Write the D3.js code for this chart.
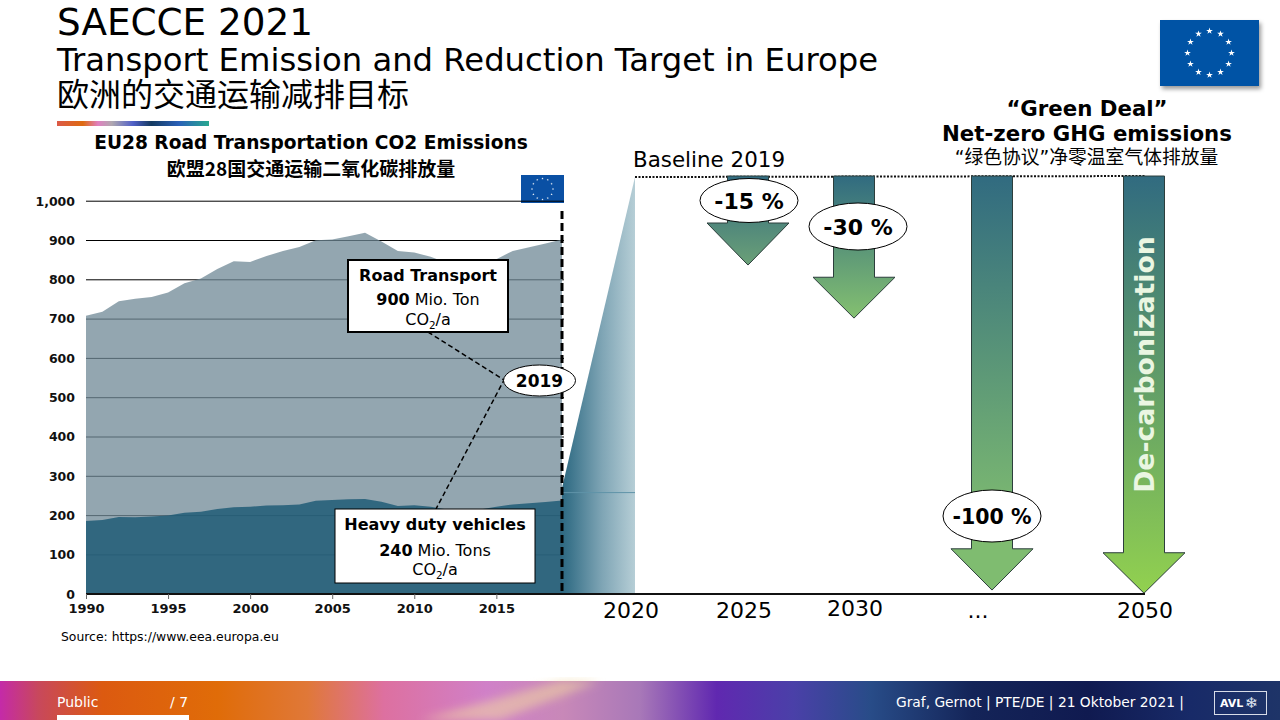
<!DOCTYPE html>
<html><head><meta charset="utf-8">
<script src="https://cdn.jsdelivr.net/npm/d3@7/dist/d3.min.js"></script>
<style>
html,body{margin:0;padding:0;background:#fff;overflow:hidden}
svg{display:block}
text{font-family:"DejaVu Sans",Verdana,sans-serif}
.cjk{font-family:"Noto Sans CJK SC","DejaVu Sans",sans-serif}
</style></head><body>
<svg id="c" width="1280" height="720"></svg>
<script>
const years=[1990,1991,1992,1993,1994,1995,1996,1997,1998,1999,2000,2001,2002,2003,2004,2005,2006,2007,2008,2009,2010,2011,2012,2013,2014,2015,2016,2017,2018,2019];
const roadTransport=[708,718,745,751,756,767,791,803,827,847,845,860,873,883,900,902,910,919,897,873,869,858,842,836,844,852,873,882,892,902];
const heavyDuty=[186,188,196,195,197,200,207,209,216,221,222,225,226,228,237,239,241,242,235,224,226,222,215,212,215,222,228,231,234,238];
const yTicks=[0,100,200,300,400,500,600,700,800,900,1000];
const yearTicks=[1990,1995,2000,2005,2010,2015];
const futureLabels=["2020","2025","2030","...","2050"];
const arrowNames=["-15 %","-30 %","-100 %","2050"];
const baselineValue=1061;
const arrowEnds=[837,702,10,2];
const arrowHeadTops=[944,806,115,105];
const arrowBottoms=["#6ba077","#84c070","#7fbc70","#92d14f"];
const W=1280,H=720;
const svg=d3.select("#c");
const defs=svg.append("defs");
const x=d3.scaleLinear([1990,2019],[86,562]);
const y=d3.scaleLinear([0,1000],[594,201]);
const fx=d3.scaleOrdinal(futureLabels,[631,744,855,978,1145]);
const fy=d3.scaleOrdinal(futureLabels,[618,618,616,618,618]);
const ax=d3.scaleOrdinal(arrowNames,[748,854,992,1144]);

function grad(id,stops,a){const g=defs.append("linearGradient").attr("id",id).attr("x1",a?a[0]:0).attr("y1",a?a[1]:0).attr("x2",a?a[2]:1).attr("y2",a?a[3]:0);
 stops.forEach(s=>g.append("stop").attr("offset",s[0]).attr("stop-color",s[1]));}
grad("rainbow",[[0,"#dc5a48"],[.17,"#de6a10"],[.27,"#e080c0"],[.36,"#b0a8b0"],[.5,"#5060c8"],[.62,"#143a60"],[.8,"#2a60b8"],[1,"#28a890"]]);
grad("zone",[[0,"#2f6a83"],[.12,"#3d758c"],[.55,"#7fa5b5"],[1,"#b6ced6"]]);
grad("foot",[[0,"#c42aa8"],[.03,"#c8485c"],[.08,"#dc5a10"],[.17,"#e06c08"],[.24,"#e07838"],[.3,"#dd70a0"],[.38,"#d080c8"],[.44,"#c888b8"],[.5,"#a878b8"],[.56,"#6028b0"],[.62,"#4a40a8"],[.68,"#284c88"],[.76,"#142458"],[.85,"#101a50"],[.93,"#182a68"],[1,"#1e3468"]]);
defs.append("filter").attr("id","sh").attr("x","-10%").attr("y","-10%").attr("width","125%").attr("height","125%")
 .append("feDropShadow").attr("dx",2).attr("dy",3).attr("stdDeviation",2).attr("flood-color","#000").attr("flood-opacity",.4);
defs.append("filter").attr("id","blur").append("feGaussianBlur").attr("stdDeviation",5);

const T=(s,xx,yy,size,o={})=>{const t=svg.append("text").attr("x",xx).attr("y",yy).attr("font-size",size)
 .attr("text-anchor",o.anchor||"start").attr("font-weight",o.weight||"normal").attr("fill",o.fill||"#000")
 .attr("class",o.cjk?"cjk":null).text(s);
 if(o.len)t.attr("textLength",o.len).attr("lengthAdjust","spacingAndGlyphs");return t;};
T("SAECCE 2021",57,35,37,{len:256});
T("Transport Emission and Reduction Target in Europe",57,71,32,{len:821});
T("欧洲的交通运输减排目标",57,106,32,{cjk:1});
svg.append("rect").attr("x",57).attr("y",121).attr("width",152).attr("height",5).attr("fill","url(#rainbow)");
T("EU28 Road Transportation CO2 Emissions",311,149,18.6,{anchor:"middle",weight:"bold"});
T("欧盟28国交通运输二氧化碳排放量",311,176,19,{anchor:"middle",weight:"bold",cjk:1});

function flag(xx,yy,w,h,r,s,fill,shadow){const g=svg.append("g");
 const rc=g.append("rect").attr("x",xx).attr("y",yy).attr("width",w).attr("height",h).attr("fill",fill);
 if(shadow)rc.attr("filter","url(#sh)");
 const cx=xx+w/2,cy=yy+h/2;
 g.selectAll("path").data(d3.range(12)).join("path").attr("d",d3.symbol(d3.symbolStar,s))
  .attr("fill","#fff").attr("transform",i=>`translate(${cx+r*Math.sin(i*Math.PI/6)},${cy-r*Math.cos(i*Math.PI/6)})`);}
flag(1160,20,99,66,22,14,"#0053a5",true);
flag(521,175,43,28,10.5,1.6,"#0a50a4",false);

svg.append("g").selectAll("line").data(yTicks.slice(1)).join("line")
 .attr("x1",86).attr("x2",564).attr("y1",d=>y(d)+.2).attr("y2",d=>y(d)+.2).attr("stroke","#000").attr("stroke-width",1);
const area=v=>d3.area().x((d,i)=>x(years[i])).y0(y(0)).y1(d=>y(d))(v);
svg.append("path").attr("d",area(roadTransport)).attr("fill","#6f8896").attr("fill-opacity",.75);
svg.append("path").attr("d",area(heavyDuty)).attr("fill","#205c77").attr("fill-opacity",.85);

const zoneR=635;
svg.append("path").attr("d",d3.line()([[x(2019),y(0)],[x(2019),y(270)],[zoneR,y(baselineValue)],[zoneR,y(0)]])+"Z").attr("fill","url(#zone)");
svg.append("line").attr("x1",x(2019)).attr("x2",zoneR).attr("y1",y(258)).attr("y2",y(258)).attr("stroke","#5f93a8").attr("stroke-width",1);

svg.append("line").attr("x1",zoneR).attr("x2",1145).attr("y1",y(baselineValue)).attr("y2",y(baselineValue)-1)
 .attr("stroke","#111").attr("stroke-width",2).attr("stroke-dasharray","2 1.5");
T("Baseline 2019",633,167,22,{len:152});

const shaftHalf=20.5,headHalf=41;
arrowNames.forEach((n,i)=>{
 const c=ax(n),top=y(baselineValue)-1,hy=y(arrowHeadTops[i]),tip=y(arrowEnds[i]);
 grad("arr"+i,[[0,"#316b80"],[i===2?.85:1,arrowBottoms[i]],[1,arrowBottoms[i]]],[0,0,0,1]);
 svg.append("path").attr("d",d3.line()([[c-shaftHalf,top],[c+shaftHalf,top],[c+shaftHalf,hy],[c+headHalf,hy],[c,tip],[c-headHalf,hy],[c-shaftHalf,hy]])+"Z")
  .attr("fill",`url(#arr${i})`).attr("stroke","#2c3e3c").attr("stroke-width",1);
});

svg.append("line").attr("x1",86).attr("x2",1145).attr("y1",594).attr("y2",594).attr("stroke","#111").attr("stroke-width",2);
const xAxis=d3.axisBottom(x).tickValues(yearTicks).tickFormat(d3.format("d")).tickSize(5).tickPadding(3);
const xg=svg.append("g").attr("transform","translate(0,594)").call(xAxis);
xg.select(".domain").remove();
xg.selectAll("line").attr("stroke","#666");
xg.selectAll("text").attr("font-size",13).attr("font-weight","bold").attr("fill","#111").attr("y",9).attr("dy","10");
const yAxis=d3.axisLeft(y).tickValues(yTicks).tickFormat(d3.format(",")).tickSize(0).tickPadding(11);
const yg=svg.append("g").attr("transform","translate(86,0)").call(yAxis);
yg.select(".domain").remove();
yg.selectAll("text").attr("font-size",12.5).attr("font-weight","bold").attr("fill","#111");
futureLabels.forEach(l=>T(l,fx(l),fy(l),22,{anchor:"middle"}));
T("Source: https://www.eea.europa.eu",61,641,12.4);

svg.append("line").attr("x1",x(2019)).attr("x2",x(2019)).attr("y1",211).attr("y2",594).attr("stroke","#000").attr("stroke-width",3).attr("stroke-dasharray","8 4");

svg.append("path").attr("d","M428,332L504,380L436,509").attr("fill","none").attr("stroke","#000").attr("stroke-width",1.5).attr("stroke-dasharray","5 3");

function box(xx,yy,w,h,sw){svg.append("rect").attr("x",xx).attr("y",yy).attr("width",w).attr("height",h).attr("fill","#fff").attr("stroke","#000").attr("stroke-width",sw);}
function rich(cx,yy,parts,size){const t=svg.append("text").attr("x",cx).attr("y",yy).attr("text-anchor","middle").attr("font-size",size);
 parts.forEach(p=>{const s=t.append("tspan").text(p.t);if(p.b)s.attr("font-weight","bold");if(p.sub)s.attr("font-size",size*.65).attr("dy",4);if(p.up)s.attr("dy",-4);if(p.cjk)s.attr("class","cjk");});return t;}
box(348,260,160,72,2);
rich(428,281,[{t:"Road Transport",b:1}],16);
rich(428,305,[{t:"900",b:1},{t:" Mio. Ton"}],16);
rich(428,325,[{t:"CO"},{t:"2",sub:1},{t:"/a",up:1}],16);
box(335,509,200,74,1);
rich(435,530,[{t:"Heavy duty vehicles",b:1}],16);
rich(435,556,[{t:"240",b:1},{t:" Mio. Tons"}],16);
rich(435,575,[{t:"CO"},{t:"2",sub:1},{t:"/a",up:1}],16);

function oval(cx,cy,rx,ry,s,size){svg.append("ellipse").attr("cx",cx).attr("cy",cy).attr("rx",rx).attr("ry",ry).attr("fill","#fff").attr("stroke","#000").attr("stroke-width",1);
 T(s,cx,cy+size*.38,size,{anchor:"middle",weight:"bold"});}
oval(539.5,380.5,36,15.5,"2019",17);
oval(749,200.5,49,22,arrowNames[0],22);
oval(858,226.5,49,23.5,arrowNames[1],22);
oval(992,516,49,26,arrowNames[2],20.5);

T("“Green Deal”",1087,116,21.3,{anchor:"middle",weight:"bold"});
T("Net-zero GHG emissions",1087,141,21.3,{anchor:"middle",weight:"bold"});
rich(1086.5,164,[{t:"“"},{t:"绿色协议",cjk:1},{t:"”"},{t:"净零温室气体排放量",cjk:1}],18.8);
svg.append("text").attr("transform","translate(1154,364.5) rotate(-90)").attr("text-anchor","middle").attr("font-size",26.7).attr("font-weight","bold").attr("fill","#eaf6e2").text("De-carbonization");

svg.append("rect").attr("x",0).attr("y",681).attr("width",W).attr("height",39).attr("fill","url(#foot)");
svg.append("path").attr("d","M420,720L560,681L600,681L500,720Z").attr("fill","#f2d8a0").attr("opacity",.55).attr("filter","url(#blur)");
svg.append("rect").attr("x",57).attr("y",715).attr("width",132).attr("height",5).attr("fill","#fff");
T("Public",57,707,14,{fill:"#fff"});
T("/ 7",170,707,14,{fill:"#fff"});
T("Graf, Gernot | PTE/DE | 21 Oktober 2021 |",1184,707,13.8,{fill:"#fff",anchor:"end"});
svg.append("rect").attr("x",1214.5).attr("y",691.5).attr("width",52).attr("height",23).attr("fill","none").attr("stroke","#d8dce8").attr("stroke-width",1);
T("AVL",1220,707,11,{fill:"#fff",weight:"bold"});
T("❄",1245,708,15,{fill:"#dfe4f0"});
</script></body></html>
